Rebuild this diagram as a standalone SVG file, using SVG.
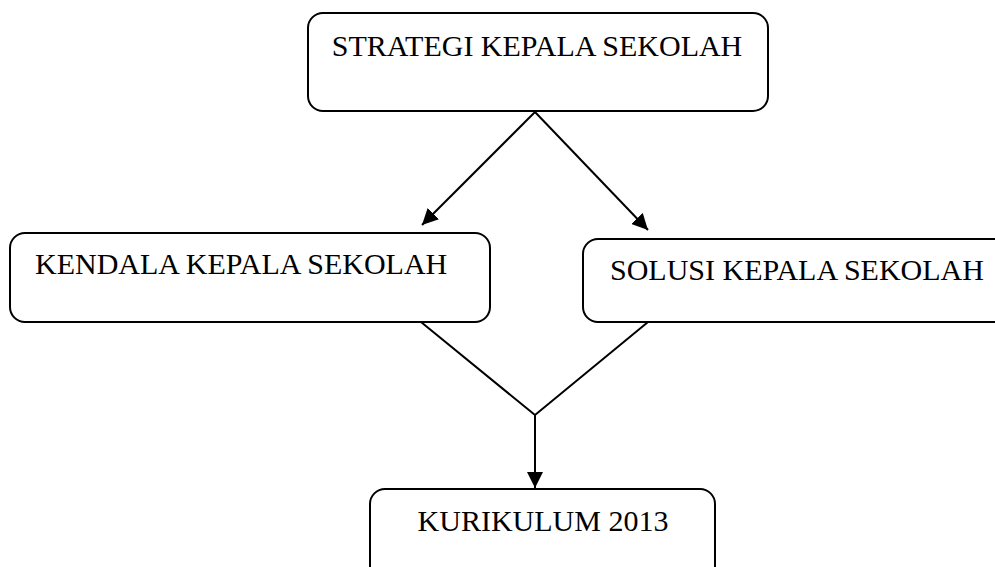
<svg xmlns="http://www.w3.org/2000/svg" width="995" height="567" viewBox="0 0 995 567">
<style>
.box{fill:#fff;stroke:#000;stroke-width:2}
.t{font-family:"Liberation Serif","Times New Roman",serif;font-size:30px;fill:#000}
.c{fill:none;stroke:#000;stroke-width:2}
</style>
<defs>
<marker id="ah" markerUnits="userSpaceOnUse" markerWidth="17" markerHeight="16" refX="16" refY="8" orient="auto">
<path d="M0,0 L16,8 L0,16 z" fill="#000"/>
</marker>
</defs>
<rect width="995" height="567" fill="#fff"/>
<g id="strategi">
<rect class="box" x="308" y="13" width="460" height="98" rx="15"/>
<text class="t" x="537" y="56" text-anchor="middle">STRATEGI KEPALA SEKOLAH</text>
</g>
<g id="kendala">
<rect class="box" x="10" y="233" width="480" height="89" rx="15"/>
<text class="t" x="35" y="274">KENDALA KEPALA SEKOLAH</text>
</g>
<g id="solusi">
<rect class="box" x="583" y="239" width="440" height="83" rx="15"/>
<text class="t" x="610" y="280">SOLUSI KEPALA SEKOLAH</text>
</g>
<g id="kurikulum">
<rect class="box" x="370" y="489" width="345" height="100" rx="15"/>
<text class="t" x="543" y="531" text-anchor="middle">KURIKULUM 2013</text>
</g>
<g id="connectors">
<line class="c" x1="535" y1="112" x2="422" y2="225" marker-end="url(#ah)"/>
<line class="c" x1="535" y1="112" x2="648" y2="230" marker-end="url(#ah)"/>
<polyline class="c" points="421,322 535,415 648,322"/>
<line class="c" x1="535" y1="415" x2="535" y2="488" marker-end="url(#ah)"/>
</g>
</svg>
